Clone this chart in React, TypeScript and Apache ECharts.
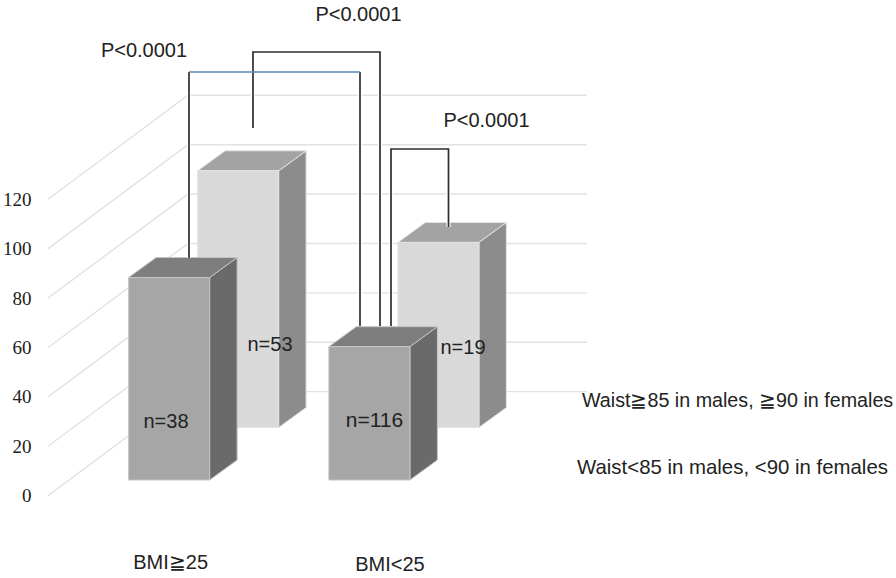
import React, { useEffect, useRef } from "react";
import * as echarts from "echarts";

const categories = ["BMI≧25", "BMI<25"];
const yTicks = [0, 20, 40, 60, 80, 100, 120];
const lowWaistName = "Waist<85 in males, <90 in females";
const highWaistName = "Waist≧85 in males, ≧90 in females";
const lowWaistValues = [82, 54];
const highWaistValues = [104, 75];
const lowWaistCounts = [38, 116];
const highWaistCounts = [53, 19];
const pValueLabel = "P<0.0001";

const SANS_NAME = '"Liberation Sans", Arial, sans-serif';
const BAR_W = 81;
const BAR_DX = 27.5;
const BAR_DY = 20;
const WALL_DX = 140;
const WALL_DY = 104;
const WALL_LEFT_OFFSET = 21;
const WALL_RIGHT = 587;

function wallItem(params: any, api: any) {
  const v = api.value(1);
  const front = api.coord([0, v]);
  const x0 = params.coordSys.x - WALL_LEFT_OFFSET;
  const y0 = front[1];
  const lineStyle = { stroke: "#e2e2e2", lineWidth: 1.4, fill: "none" };
  return {
    type: "group",
    children: [
      { type: "polyline", shape: { points: [[x0, y0], [x0 + WALL_DX, y0 - WALL_DY], [WALL_RIGHT, y0 - WALL_DY]] }, style: lineStyle },
    ],
  };
}

function barRenderer(rowDx: number, rowDy: number, colors: { face: string; side: string; top: string; edge: string }) {
  return (_params: any, api: any) => {
    const cat = api.value(0);
    const base = api.coord([cat, 0]);
    const top = api.coord([cat, api.value(1)]);
    const xl = base[0] - BAR_W / 2 + rowDx;
    const xr = xl + BAR_W;
    const yb = base[1] + rowDy;
    const yt = top[1] + rowDy;
    const edge = { stroke: colors.edge, lineWidth: 1 };
    return {
      type: "group",
      children: [
        { type: "polygon", shape: { points: [[xr, yt], [xr + BAR_DX, yt - BAR_DY], [xr + BAR_DX, yb - BAR_DY], [xr, yb]] }, style: { fill: colors.side, ...edge } },
        { type: "polygon", shape: { points: [[xl, yt], [xl + BAR_DX, yt - BAR_DY], [xr + BAR_DX, yt - BAR_DY], [xr, yt]] }, style: { fill: colors.top, ...edge } },
        { type: "rect", shape: { x: xl, y: yt, width: BAR_W, height: yb - yt }, style: { fill: colors.face, ...edge } },
      ],
    };
  };
}

function textEl(text: string, x: number, y: number, size = 20, align = "center") {
  return {
    type: "text",
    x,
    y,
    z: 20,
    style: { text, fill: "#222", font: `${size}px ${SANS_NAME}`, textAlign: align, textVerticalAlign: "middle" },
  };
}

function bracket(points: number[][], color = "#2e2e2e") {
  return [
    { type: "polyline", z: 10, shape: { points }, style: { stroke: "#ffffff", lineWidth: 4, fill: "none" } },
    { type: "polyline", z: 11, shape: { points }, style: { stroke: color, lineWidth: 1.7, fill: "none" } },
  ];
}

export default function App() {
  const ref = useRef<HTMLDivElement>(null);
  useEffect(() => {
    const chart = echarts.init(ref.current!, undefined, { renderer: "svg" });
    chart.setOption({
      animation: false,
      backgroundColor: "#ffffff",
      grid: { left: 67.5, width: 402, top: 199.3, height: 296.3 },
      xAxis: {
        type: "category",
        data: categories,
        axisLine: { show: false },
        axisTick: { show: false },
        axisLabel: {
          margin: 56,
          formatter: (v: string, i: number) => (i === 0 ? `{a|${v}}` : `{b|${v}}`),
          rich: {
            a: { fontSize: 20, fontFamily: SANS_NAME, color: "#222", padding: [0, 0, 0, 3] },
            b: { fontSize: 20, fontFamily: SANS_NAME, color: "#222", padding: [2, 0, 0, 41] },
          },
        },
      },
      yAxis: {
        type: "value",
        min: 0,
        max: 120,
        interval: 20,
        axisLine: { show: false },
        axisTick: { show: false },
        splitLine: { show: false },
        axisLabel: { margin: 37.5, color: "#222", fontSize: 19, fontFamily: '"Liberation Serif", serif' },
      },
      series: [
        { type: "custom", name: "wall", z: 1, silent: true, clip: false, renderItem: wallItem, data: yTicks.map((t) => [0, t]), encode: { x: 0, y: 1 } },
        {
          type: "custom",
          name: highWaistName,
          z: 2,
          clip: false,
          renderItem: barRenderer(69, -68, { face: "#d9d9d9", side: "#8c8c8c", top: "#a3a3a3", edge: "#e4e4e4" }),
          data: highWaistValues.map((v, i) => [i, v]),
          encode: { x: 0, y: 1 },
        },
        {
          type: "custom",
          name: lowWaistName,
          z: 3,
          clip: false,
          renderItem: barRenderer(0, -15.6, { face: "#a6a6a6", side: "#6a6a6a", top: "#7e7e7e", edge: "#c4c4c4" }),
          data: lowWaistValues.map((v, i) => [i, v]),
          encode: { x: 0, y: 1 },
        },
      ],
      graphic: [
        ...bracket([[189, 258], [189, 72]]),
        ...bracket([[360, 72], [360, 326]]),
        ...bracket([[253, 128], [253, 52], [380, 52], [380, 326]]),
        ...bracket([[391, 326], [391, 149], [448.5, 149], [448.5, 227]]),
        { type: "polyline", z: 12, shape: { points: [[189, 72], [360, 72]] }, style: { stroke: "#5c85b4", lineWidth: 1.5, fill: "none" } },
        textEl(pValueLabel, 144, 50),
        textEl(pValueLabel, 358.5, 14),
        textEl(pValueLabel, 486.5, 120),
        textEl(`n=${lowWaistCounts[0]}`, 166, 421),
        textEl(`n=${highWaistCounts[0]}`, 270, 344),
        textEl(`n=${lowWaistCounts[1]}`, 374.5, 419, 21),
        textEl(`n=${highWaistCounts[1]}`, 463, 347),
        textEl(highWaistName, 582, 400, 19.7, "left"),
        textEl(lowWaistName, 577, 467, 20.4, "left"),
      ],
    });
    return () => chart.dispose();
  }, []);
  return <div ref={ref} style={{ position: "absolute", left: 0, top: 0, width: 896, height: 578 }} />;
}
